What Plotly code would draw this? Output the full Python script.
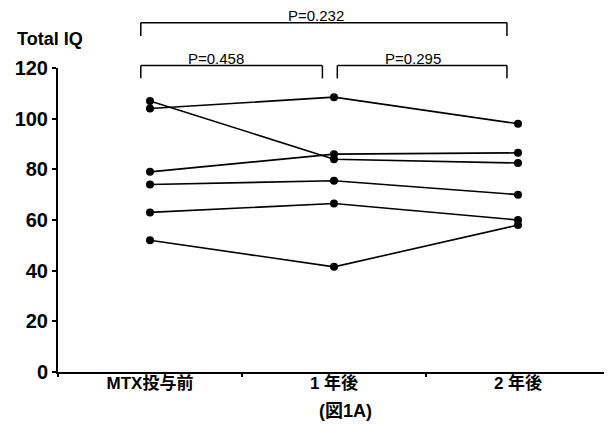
import plotly.graph_objects as go

categories = ["MTX投与前", "1 年後", "2 年後"]
series = [
    [107, 84, 82.5],
    [104, 108.5, 98],
    [79, 86, 86.5],
    [74, 75.5, 70],
    [63, 66.5, 60],
    [52, 41.5, 58],
]
y_ticks = [0, 20, 40, 60, 80, 100, 120]
p_labels = ["P=0.232", "P=0.458", "P=0.295"]

FONT = "Liberation Sans, Noto Sans CJK JP, sans-serif"

fig = go.Figure()
for s in series:
    fig.add_trace(go.Scatter(
        x=categories, y=s, mode="lines+markers",
        line=dict(color="black", width=1.6),
        marker=dict(color="black", size=8),
        showlegend=False, cliponaxis=False,
    ))

def bracket(x0, x1, ytop, ybot):
    fig.add_shape(type="line", xref="x", yref="paper", x0=x0, x1=x1, y0=ytop, y1=ytop,
                  line=dict(color="black", width=1.5))
    for xx in (x0, x1):
        fig.add_shape(type="line", xref="x", yref="paper", x0=xx, x1=xx, y0=ytop, y1=ybot,
                      line=dict(color="black", width=1.5))

bracket(-0.05, 1.94, 1.149, 1.105)
bracket(-0.05, 0.937, 1.008, 0.966)
bracket(1.018, 1.94, 1.008, 0.966)

for txt, xx, yy in [(p_labels[0], 0.90, 1.149), (p_labels[1], 0.36, 1.008), (p_labels[2], 1.43, 1.008)]:
    fig.add_annotation(text=txt, x=xx, y=yy, xref="x", yref="paper", showarrow=False,
                       yanchor="bottom", yshift=-3,
                       font=dict(family=FONT, size=15, color="black"))

fig.add_annotation(text="Total IQ", x=-0.078, y=1.094, xref="paper", yref="paper",
                   showarrow=False, xanchor="left", yanchor="middle",
                   font=dict(family=FONT, size=18, color="black", weight="bold"))
fig.add_annotation(text="(図1A)", x=0.521, y=-0.127, xref="paper", yref="paper",
                   showarrow=False, xanchor="center", yanchor="middle",
                   font=dict(family=FONT, size=18, color="black", weight="bold"))

fig.update_layout(
    width=604, height=420,
    margin=dict(l=50, r=2, t=59.5, b=55.7),
    paper_bgcolor="white", plot_bgcolor="white",
    xaxis=dict(type="category", range=[-0.5, 2.5], tickson="boundaries",
               ticks="outside", ticklen=3, tickwidth=1.5, tickcolor="black",
               ticklabelstandoff=-5,
               showline=True, linecolor="black", linewidth=2, showgrid=False,
               zeroline=False,
               tickfont=dict(family=FONT, size=17, color="black", weight="bold")),
    yaxis=dict(range=[0, 120], tickvals=y_ticks, ticks="outside", ticklen=4,
               tickwidth=1.5, tickcolor="black",
               showline=True, linecolor="black", linewidth=2, showgrid=False,
               zeroline=False,
               tickfont=dict(family=FONT, size=20, color="black", weight="bold")),
)

fig.write_html("out.html")
